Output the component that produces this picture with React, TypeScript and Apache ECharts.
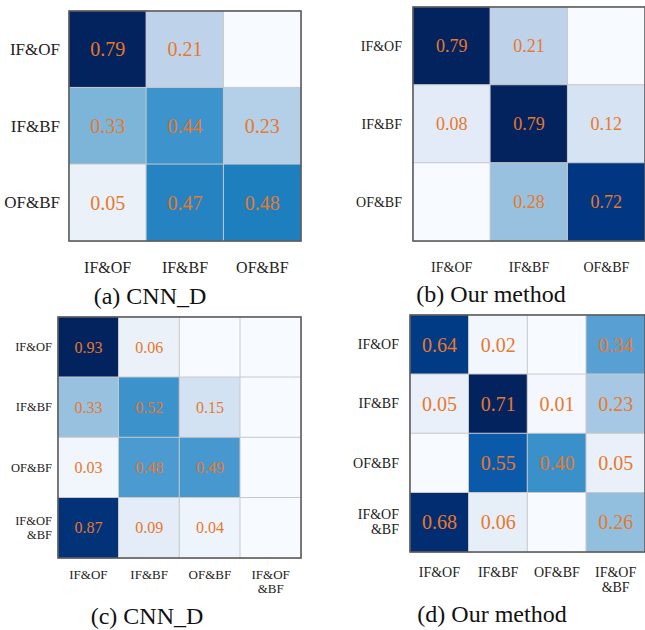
import React, { useEffect, useRef } from "react";
import * as echarts from "echarts";

const categories3 = ["IF&OF", "IF&BF", "OF&BF"];
const categories4 = ["IF&OF", "IF&BF", "OF&BF", "IF&OF\n&BF"];

// rows = true class (top to bottom), columns = predicted class (left to right); 0 = empty cell
const valuesA = [
  [0.79, 0.21, 0],
  [0.33, 0.44, 0.23],
  [0.05, 0.47, 0.48],
];
const valuesB = [
  [0.79, 0.21, 0],
  [0.08, 0.79, 0.12],
  [0, 0.28, 0.72],
];
const valuesC = [
  [0.93, 0.06, 0, 0],
  [0.33, 0.52, 0.15, 0],
  [0.03, 0.48, 0.49, 0],
  [0.87, 0.09, 0.04, 0],
];
const valuesD = [
  [0.64, 0.02, 0, 0.34],
  [0.05, 0.71, 0.01, 0.23],
  [0, 0.55, 0.4, 0.05],
  [0.68, 0.06, 0, 0.26],
];
const captions = ["(a) CNN_D", "(b) Our method", "(c) CNN_D", "(d) Our method"];

// Blues-like colour ramp (fraction of panel max -> colour)
const rampStops: [number, string][] = [
  [0, "#f7fbff"],
  [0.07, "#e9f0f9"],
  [0.15, "#d5e3f3"],
  [0.27, "#bdd3ea"],
  [0.36, "#96c0e0"],
  [0.42, "#7db4d9"],
  [0.48, "#56a0d4"],
  [0.56, "#3d93cb"],
  [0.61, "#1a7dbd"],
  [0.775, "#0b5aa9"],
  [0.9, "#013a86"],
  [1, "#03235f"],
];

function hex(c: string) {
  return [1, 3, 5].map((i) => parseInt(c.slice(i, i + 2), 16));
}
function buildRamp(n: number) {
  const out: string[] = [];
  for (let k = 0; k < n; k++) {
    const t = k / (n - 1);
    let j = 0;
    while (j < rampStops.length - 2 && t > rampStops[j + 1][0]) j++;
    const [t0, c0] = rampStops[j];
    const [t1, c1] = rampStops[j + 1];
    const f = Math.min(1, Math.max(0, (t - t0) / (t1 - t0)));
    const a = hex(c0);
    const b = hex(c1);
    const rgb = a.map((v, i) => Math.round(v + (b[i] - v) * f));
    out.push("rgb(" + rgb.join(",") + ")");
  }
  return out;
}
const ramp = buildRamp(61);

const FONT = "Liberation Serif";
const ORANGE = "#e8782a";

type Panel = {
  values: number[][];
  cats: string[];
  grid: { left: number; top: number; width: number; height: number };
  yMargin: number;
  xMargin: number;
  yFont: number;
  xFont: number;
  valFont: number;
  caption: string;
  capX: number;
  capTop: number;
};

const panels: Panel[] = [
  { values: valuesA, cats: categories3, grid: { left: 69, top: 11, width: 232, height: 230 }, yMargin: 9, xMargin: 18, yFont: 17, xFont: 16, valFont: 20, caption: captions[0], capX: 150, capTop: 284 },
  { values: valuesB, cats: categories3, grid: { left: 413, top: 7, width: 235, height: 234 }, yMargin: 11, xMargin: 19, yFont: 14, xFont: 14, valFont: 18, caption: captions[1], capX: 491, capTop: 282 },
  { values: valuesC, cats: categories4, grid: { left: 58, top: 317, width: 243, height: 241 }, yMargin: 6, xMargin: 9, yFont: 12.5, xFont: 13, valFont: 16, caption: captions[2], capX: 147, capTop: 604 },
  { values: valuesD, cats: categories4, grid: { left: 410, top: 315, width: 238, height: 237 }, yMargin: 11, xMargin: 13, yFont: 14, xFont: 14, valFont: 20, caption: captions[3], capX: 492, capTop: 602 },
];

export default function App() {
  const ref = useRef<HTMLDivElement>(null);
  useEffect(() => {
    if (!ref.current) return;
    const chart = echarts.init(ref.current, undefined, { renderer: "svg" });
    const grid: any[] = [];
    const xAxis: any[] = [];
    const yAxis: any[] = [];
    const series: any[] = [];
    const visualMap: any[] = [];
    const title: any[] = [];
    panels.forEach((p, i) => {
      grid.push({ ...p.grid, show: true, borderColor: "#555", borderWidth: 1.5, backgroundColor: "transparent", z: 5 });
      xAxis.push({
        type: "category",
        gridIndex: i,
        data: p.cats,
        position: "bottom",
        axisLine: { show: false },
        axisTick: { show: false },
        splitLine: { show: false },
        axisLabel: { margin: p.xMargin, fontSize: p.xFont, fontFamily: FONT, color: "#222", lineHeight: p.xFont + 1, interval: 0 },
      });
      yAxis.push({
        type: "category",
        gridIndex: i,
        data: p.cats,
        inverse: true,
        axisLine: { show: false },
        axisTick: { show: false },
        splitLine: { show: false },
        axisLabel: { margin: p.yMargin, fontSize: p.yFont, fontFamily: FONT, color: "#222", lineHeight: p.yFont + 1, align: "right", interval: 0 },
      });
      const data: number[][] = [];
      let mx = 0;
      p.values.forEach((row, r) =>
        row.forEach((v, c) => {
          data.push([c, r, v]);
          mx = Math.max(mx, v);
        })
      );
      series.push({
        type: "heatmap",
        xAxisIndex: i,
        yAxisIndex: i,
        data,
        itemStyle: { borderColor: "#c8c8c8", borderWidth: 1 },
        label: {
          show: true,
          formatter: (prm: any) => (prm.value[2] === 0 ? "" : prm.value[2].toFixed(2)),
          color: ORANGE,
          fontSize: p.valFont,
          fontFamily: FONT,
        },
        emphasis: { disabled: true },
      });
      visualMap.push({
        type: "continuous",
        show: false,
        seriesIndex: i,
        dimension: 2,
        min: 0,
        max: mx,
        inRange: { color: ramp },
      });
      title.push({
        text: p.caption,
        left: p.capX,
        top: p.capTop,
        padding: 0,
        textAlign: "center",
        textStyle: { fontFamily: FONT, fontSize: 24, lineHeight: 24, fontWeight: "normal", color: "#111" },
      });
    });
    chart.setOption({
      animation: false,
      backgroundColor: "#ffffff",
      title,
      grid,
      xAxis,
      yAxis,
      visualMap,
      series,
    });
    return () => chart.dispose();
  }, []);
  return (
    <div
      ref={ref}
      style={{ position: "absolute", left: 0, top: 0, width: 645, height: 630, background: "#fff" }}
    />
  );
}
